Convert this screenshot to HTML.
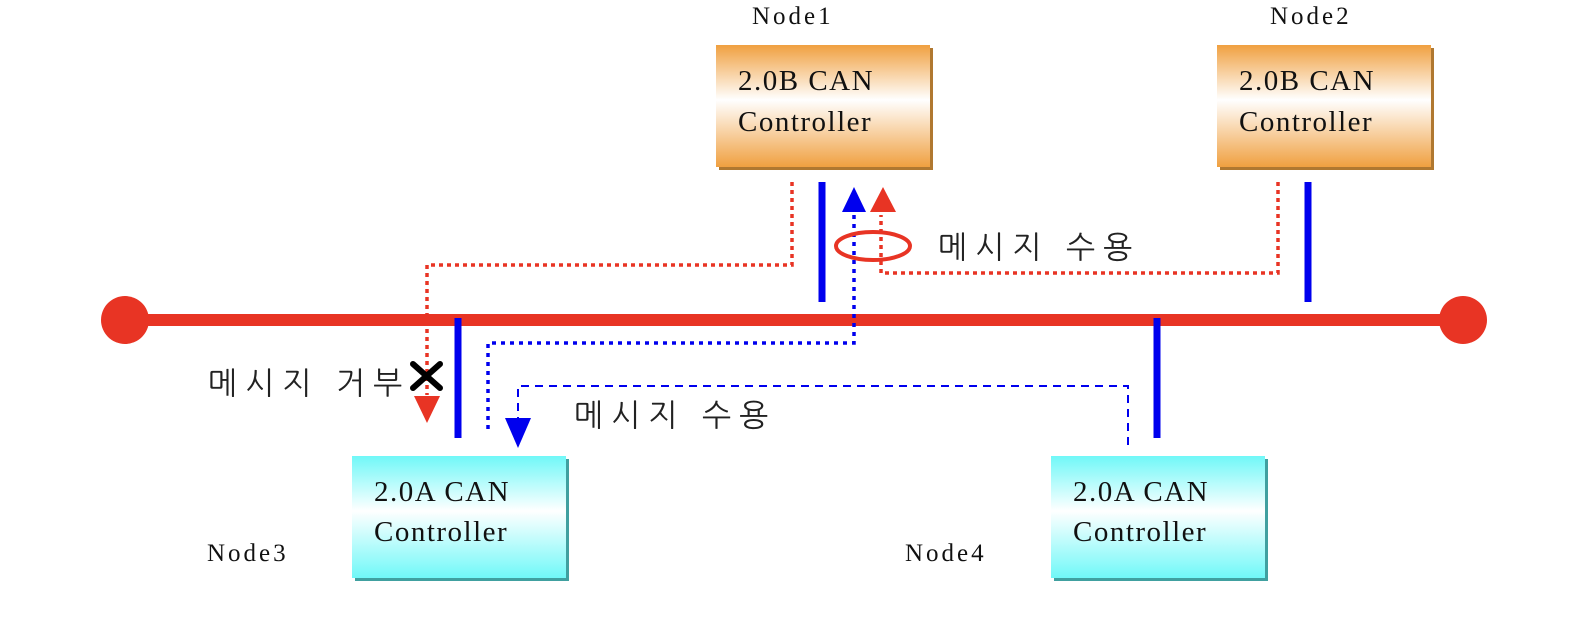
<!DOCTYPE html>
<html><head><meta charset="utf-8"><style>
html,body{margin:0;padding:0;background:#fff;}
svg text{font-family:"Liberation Serif","Noto Serif CJK SC",serif;}
.ko{font-family:"Liberation Sans","NanumGothic","Noto Sans CJK KR",sans-serif;}
</style></head><body>
<svg width="1594" height="622" viewBox="0 0 1594 622" xmlns="http://www.w3.org/2000/svg">
<defs>
<linearGradient id="og" x1="0" y1="0" x2="0" y2="1">
<stop offset="0" stop-color="#f0a040"/><stop offset="0.45" stop-color="#ffffff"/><stop offset="1" stop-color="#f0a040"/>
</linearGradient>
<linearGradient id="cg" x1="0" y1="0" x2="0" y2="1">
<stop offset="0" stop-color="#70f8f8"/><stop offset="0.45" stop-color="#ffffff"/><stop offset="1" stop-color="#70f8f8"/>
</linearGradient>
</defs>
<line x1="125" y1="320" x2="1463" y2="320" stroke="#e83424" stroke-width="12"/>
<circle cx="125" cy="320" r="24" fill="#e83424"/>
<circle cx="1463" cy="320" r="24" fill="#e83424"/>
<rect x="719" y="48" width="214" height="122" fill="#b07830"/>
<rect x="716" y="45" width="214" height="122" fill="url(#og)"/>
<rect x="1220" y="48" width="214" height="122" fill="#b07830"/>
<rect x="1217" y="45" width="214" height="122" fill="url(#og)"/>
<rect x="355" y="459" width="214" height="122" fill="#40a0a0"/>
<rect x="352" y="456" width="214" height="122" fill="url(#cg)"/>
<rect x="1054" y="459" width="214" height="122" fill="#40a0a0"/>
<rect x="1051" y="456" width="214" height="122" fill="url(#cg)"/>
<g font-size="29" fill="#111" letter-spacing="1.5">
<text x="738" y="90">2.0B CAN</text><text x="738" y="131">Controller</text>
<text x="1239" y="90">2.0B CAN</text><text x="1239" y="131">Controller</text>
<text x="374" y="501">2.0A CAN</text><text x="374" y="541">Controller</text>
<text x="1073" y="501">2.0A CAN</text><text x="1073" y="541">Controller</text>
</g>
<g font-size="25" fill="#111" letter-spacing="3">
<text x="752" y="24">Node1</text><text x="1270" y="24">Node2</text>
<text x="207" y="561">Node3</text><text x="905" y="561">Node4</text>
</g>
<g stroke="#0000ee" stroke-width="7">
<line x1="822" y1="182" x2="822" y2="302"/>
<line x1="1308" y1="182" x2="1308" y2="302"/>
<line x1="458" y1="318" x2="458" y2="438"/>
<line x1="1157" y1="318" x2="1157" y2="438"/>
</g>
<g fill="none" stroke="#e83424" stroke-width="3.5" stroke-dasharray="4,4">
<polyline points="792,182 792,265 427,265 427,395"/>
<polyline points="1278,182 1278,273 881,273 881,215"/>
</g>
<polyline points="854,215 854,343 488,343 488,430" fill="none" stroke="#0000ee" stroke-width="3.5" stroke-dasharray="4,5"/>
<polyline points="1128,445 1128,386 518,386 518,420" fill="none" stroke="#0000ee" stroke-width="2" stroke-dasharray="8,6"/>
<polygon points="842,212 866,212 854,187" fill="#0000ee"/>
<polygon points="870,212 896,212 883,187" fill="#e83424"/>
<polygon points="414,396 440,396 427,423" fill="#e83424"/>
<polygon points="505,418 531,418 518,448" fill="#0000ee"/>
<ellipse cx="873" cy="246" rx="37" ry="14" fill="none" stroke="#e83424" stroke-width="4"/>
<g stroke="#000" stroke-width="6" stroke-linecap="round">
<line x1="413" y1="364" x2="440" y2="388"/><line x1="440" y1="364" x2="413" y2="388"/>
</g>
<g font-size="31" fill="#222" letter-spacing="8">
<text x="938" y="258" class="ko">메시지 수용</text>
<text x="208" y="394" class="ko">메시지 거부</text>
<text x="574" y="426" class="ko">메시지 수용</text>
</g>
</svg>
</body></html>
